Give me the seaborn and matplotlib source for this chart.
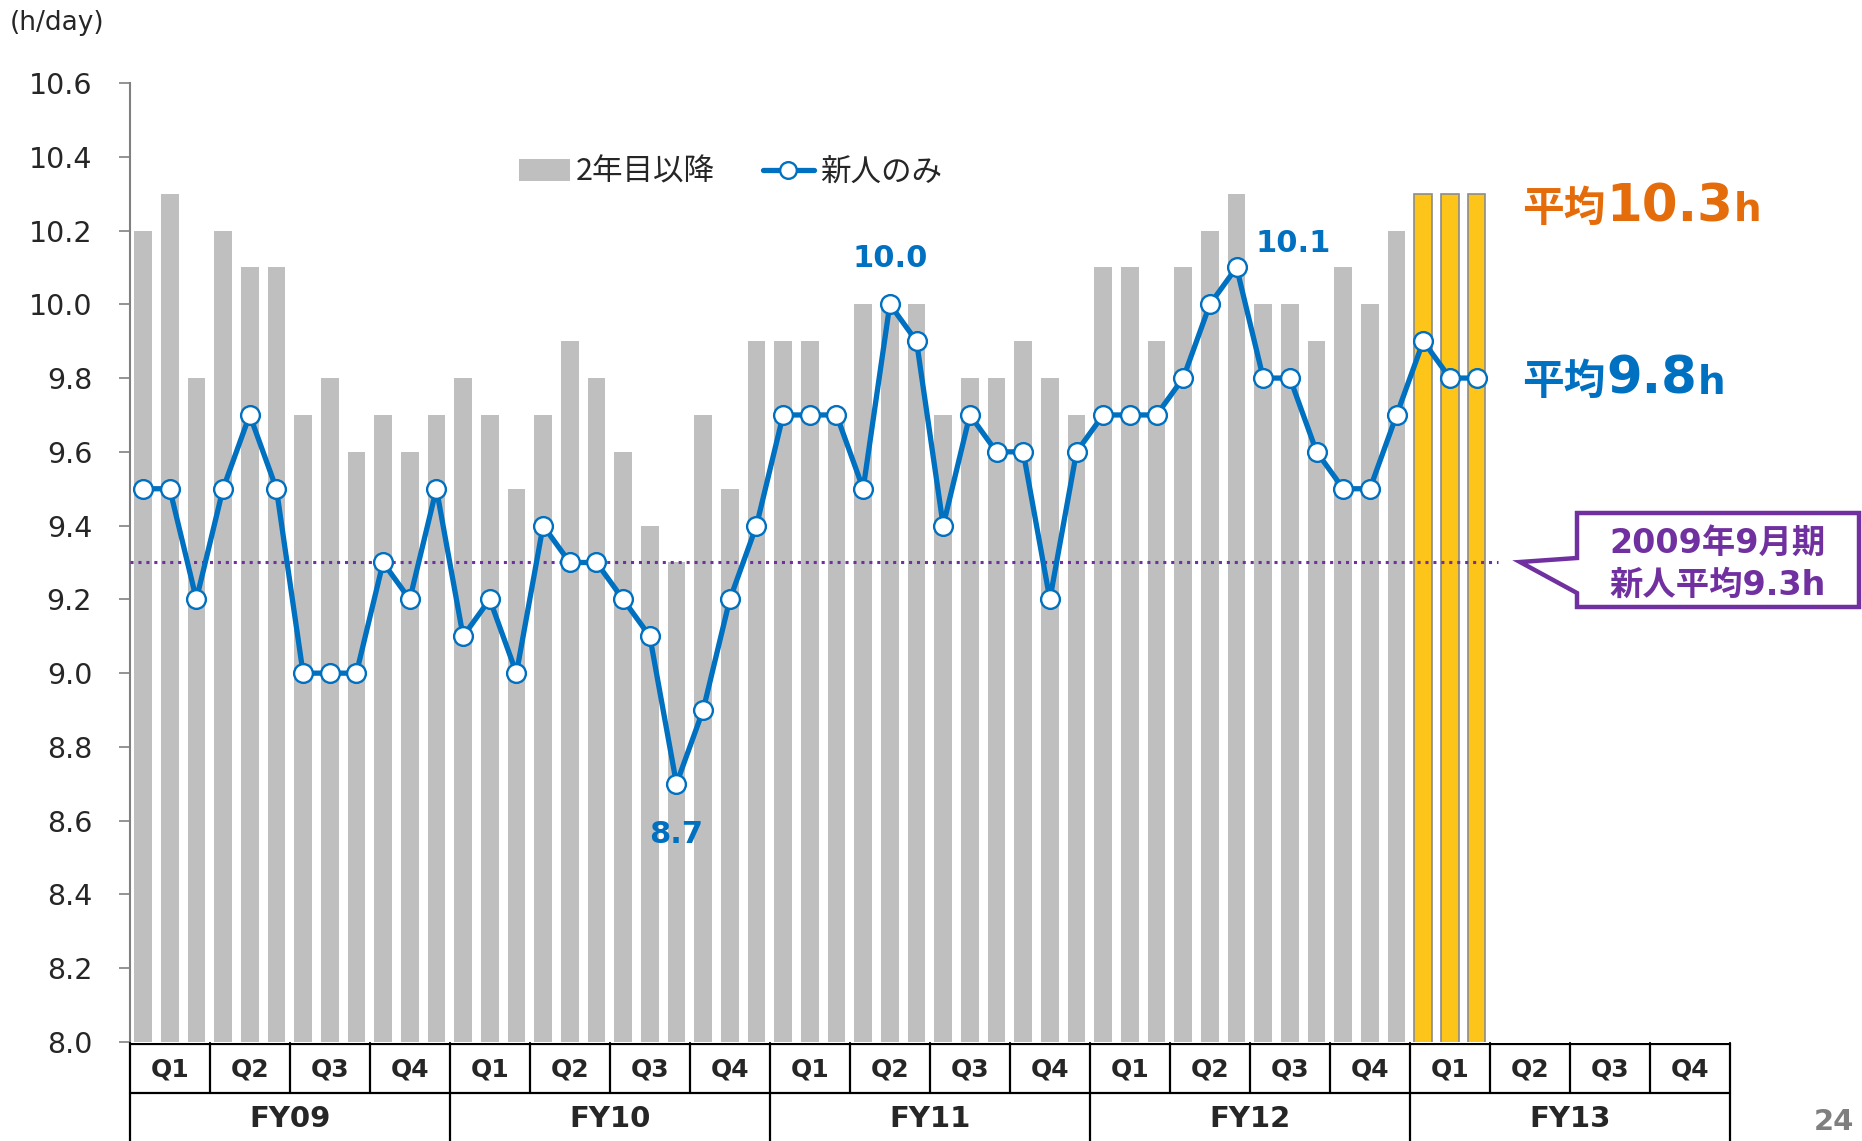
import numpy as np
import pandas as pd
import matplotlib
matplotlib.use('Agg')
import matplotlib.pyplot as plt
import seaborn as sns
from matplotlib.patches import Patch, Polygon
from matplotlib.lines import Line2D

# DATA
years = ['FY09', 'FY10', 'FY11', 'FY12', 'FY13']
quarters = ['Q1', 'Q2', 'Q3', 'Q4']
n_slots = 60  # 5 years x 12 months

veteran = [10.2, 10.3, 9.8, 10.2, 10.1, 10.1, 9.7, 9.8, 9.6, 9.7, 9.6, 9.7,
           9.8, 9.7, 9.5, 9.7, 9.9, 9.8, 9.6, 9.4, 9.3, 9.7, 9.5, 9.9,
           9.9, 9.9, 9.7, 10.0, 10.0, 10.0, 9.7, 9.8, 9.8, 9.9, 9.8, 9.7,
           10.1, 10.1, 9.9, 10.1, 10.2, 10.3, 10.0, 10.0, 9.9, 10.1, 10.0, 10.2,
           10.3, 10.3, 10.3]
rookie = [9.5, 9.5, 9.2, 9.5, 9.7, 9.5, 9.0, 9.0, 9.0, 9.3, 9.2, 9.5,
          9.1, 9.2, 9.0, 9.4, 9.3, 9.3, 9.2, 9.1, 8.7, 8.9, 9.2, 9.4,
          9.7, 9.7, 9.7, 9.5, 10.0, 9.9, 9.4, 9.7, 9.6, 9.6, 9.2, 9.6,
          9.7, 9.7, 9.7, 9.8, 10.0, 10.1, 9.8, 9.8, 9.6, 9.5, 9.5, 9.7,
          9.9, 9.8, 9.8]
n_current = 3  # FY13 months drawn in yellow
base_avg = 9.3
avg_veteran = '10.3'
avg_rookie = '9.8'
labels_pts = {28: '10.0', 41: '10.1', 20: '8.7'}

df = pd.DataFrame({'slot': range(len(veteran)), 'veteran': veteran, 'rookie': rookie})
df['phase'] = ['past'] * (len(veteran) - n_current) + ['now'] * n_current

GRAY = '#BFBFBF'
YELLOW = '#FDC51A'
BLUE = '#0070C0'
ORANGE = '#E46C0A'
PURPLE = '#7030A0'
LATIN = ['DejaVu Sans', 'Noto Sans CJK JP']
CJK = ['Noto Sans CJK JP', 'DejaVu Sans']

sns.set_style('white')
plt.rcParams['font.family'] = CJK

W, H = 1862, 1141
fig = plt.figure(figsize=(W / 100, H / 100), dpi=100)

def fx(x):
    return x / W

def fy(y):
    return 1 - y / H

ax = fig.add_axes([fx(129.7), fy(1042), fx(1730) - fx(129.7), fy(83) - fy(1042)])

sns.barplot(data=df, x='slot', y='veteran', hue='phase', order=list(range(n_slots)),
            palette={'past': GRAY, 'now': YELLOW}, dodge=False, width=0.66,
            saturation=1, errorbar=None, legend=False, linewidth=0, ax=ax)
for p in ax.patches:
    if np.allclose(p.get_facecolor()[:3], matplotlib.colors.to_rgb(YELLOW)):
        p.set_edgecolor('#8C8C8C')
        p.set_linewidth(1.2)

sns.lineplot(data=df, x='slot', y='rookie', ax=ax, color=BLUE, lw=3.8,
             marker='o', markersize=13.5, markerfacecolor='white',
             markeredgecolor=BLUE, markeredgewidth=1.7, zorder=5)

ax.hlines(base_avg, -0.5, 50.8, colors=PURPLE, linestyles=(0, (1, 1.6)), lw=2.2, zorder=3)

ax.set_xlim(-0.5, n_slots - 0.5)
ax.set_ylim(8.0, 10.6)
ax.set_yticks(np.arange(8.0, 10.61, 0.2))
ax.set_yticklabels(['%.1f' % v for v in np.arange(8.0, 10.61, 0.2)], family=LATIN)
ax.set_xticks([])
ax.set_xlabel('')
ax.set_ylabel('')
ax.tick_params(axis='y', direction='out', length=8, width=1.2, color='#808080',
               labelsize=20.5, pad=19, left=True)
for s in ['top', 'right', 'bottom']:
    ax.spines[s].set_visible(False)
ax.spines['left'].set_color('#808080')
ax.spines['left'].set_linewidth(1.5)

# POINT LABELS
offs = {28: (0, 46), 41: (57, 24), 20: (0, -51)}
for k, txt in labels_pts.items():
    ax.annotate(txt, (k, rookie[k]), xytext=offs[k], textcoords='offset pixels',
                ha='center', va='center', fontsize=22, fontweight='bold', color=BLUE,
                family=LATIN)

# LEGEND
handles = [Patch(facecolor=GRAY, edgecolor='none'),
           Line2D([], [], color=BLUE, lw=3.8, marker='o', markersize=12,
                  markerfacecolor='white', markeredgecolor=BLUE, markeredgewidth=1.7)]
fig.legend(handles, ['2年目以降', '新人のみ'], loc='center left',
           bbox_to_anchor=(fx(519), fy(172)), ncol=2, frameon=False, fontsize=22,
           handlelength=1.67, handletextpad=0.2, columnspacing=1.55, borderpad=0,
           borderaxespad=0, numpoints=1)

# TABLE UNDER THE AXIS
tab = fig.add_axes([fx(129.7), 0, fx(1730) - fx(129.7), fy(1043)])
tab.set_xlim(-0.5, n_slots - 0.5)
tab.set_ylim(H, 1043)
tab.axis('off')
tab.axhline(1043.8, color='black', lw=1.6)
tab.axhline(1093, color='black', lw=1.6)
for i in range(0, n_slots + 1, 3):
    tab.plot([i - 0.5, i - 0.5], [1043, 1093], color='black', lw=1.6, clip_on=False)
for i in range(0, n_slots + 1, 12):
    tab.plot([i - 0.5, i - 0.5], [1093, H], color='black', lw=1.6, clip_on=False)
for yi, yr in enumerate(years):
    for qi, q in enumerate(quarters):
        tab.text(yi * 12 + qi * 3 + 1, 1069, q, ha='center', va='center',
                 fontsize=18, fontweight='bold', color='#262626', family='DejaVu Sans')
    tab.text(yi * 12 + 5.5, 1119, yr, ha='center', va='center',
             fontsize=21, fontweight='bold', color='#262626', family='DejaVu Sans')

# TEXTS AROUND
fig.text(fx(10), fy(23), '(h/day)', fontsize=19, ha='left', va='center', family=LATIN)
fig.text(fx(1834), fy(1122), '24', fontsize=21, fontweight='bold', color='#7F7F7F',
         ha='center', va='center', family='DejaVu Sans')

renderer = fig.canvas.get_renderer()

def run(x, y, parts):
    for txt, size, color, fam in parts:
        t = fig.text(fx(x), fy(y), txt, fontsize=size, color=color, fontweight='bold',
                     ha='left', va='baseline', family=fam)
        x = t.get_window_extent(renderer).x1 + 1

run(1522, 221, [('平均', 30, ORANGE, CJK), (avg_veteran, 37, ORANGE, LATIN), ('h', 28, ORANGE, LATIN)])
run(1522, 394, [('平均', 30, BLUE, CJK), (avg_rookie, 37, BLUE, LATIN), ('h', 28, BLUE, LATIN)])

# CALLOUT
pts = [(1577, 513), (1859, 513), (1859, 607), (1577, 607), (1577, 593), (1520, 562), (1577, 558)]
fig.patches.append(Polygon([(fx(a), fy(b)) for a, b in pts], closed=True,
                           transform=fig.transFigure, facecolor='white',
                           edgecolor=PURPLE, lw=3.2, joinstyle='miter'))
fig.text(fx(1718), fy(543), '2009年9月期', fontsize=24, fontweight='bold', color=PURPLE,
         ha='center', va='center', family=LATIN)
fig.text(fx(1718), fy(585), '新人平均9.3h', fontsize=24, fontweight='bold', color=PURPLE,
         ha='center', va='center', family=LATIN)

fig.savefig('out.png', dpi=100)
